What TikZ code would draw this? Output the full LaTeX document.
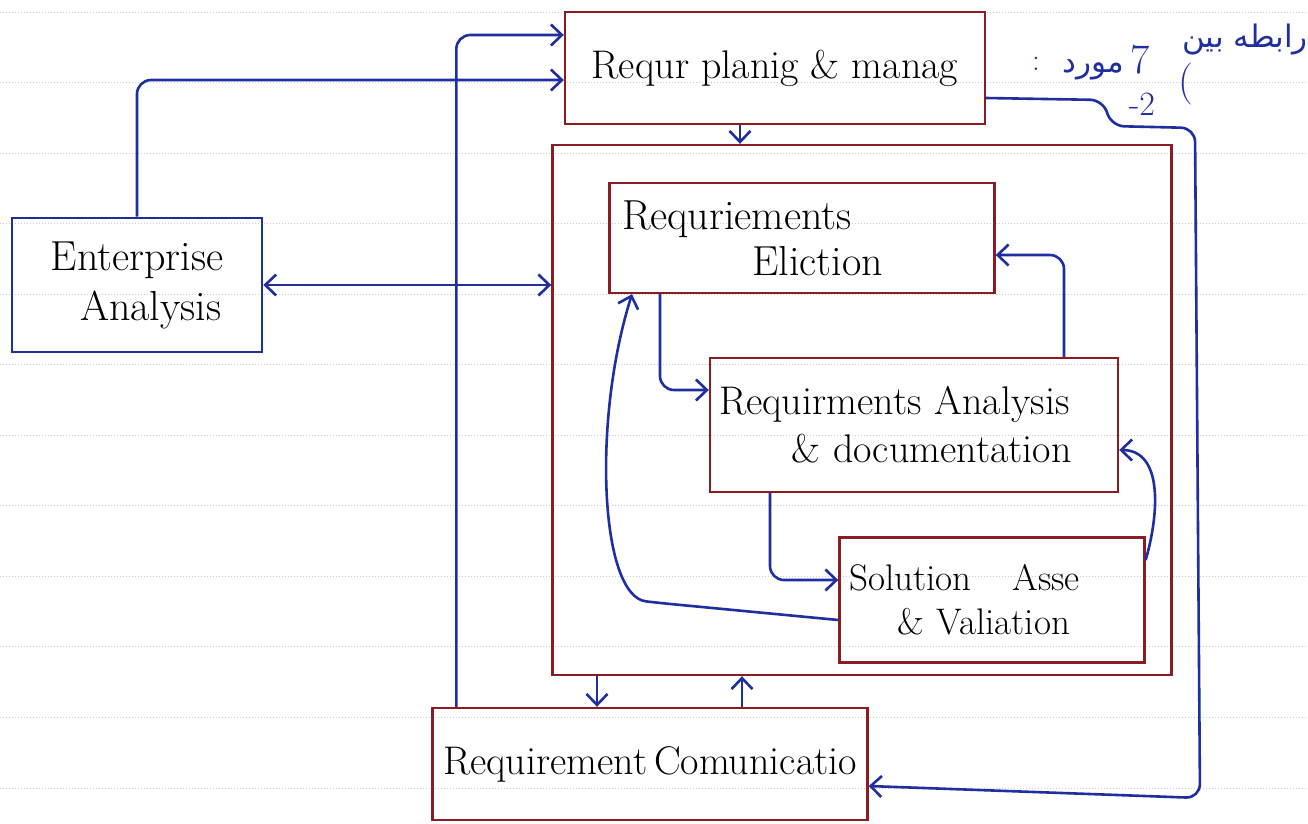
\documentclass[tikz,border=0pt]{standalone}
\usepackage{fontspec}
\newfontfamily\arabicfont[Script=Arabic]{DejaVu Sans}
\TeXXeTstate=1
\usetikzlibrary{arrows.meta,calc}
\definecolor{boxred}{HTML}{8A1C24}
\definecolor{penblue}{HTML}{1F2FA0}
\definecolor{ruling}{HTML}{C8CCD4}
\tikzset{
  redbox/.style={draw=boxred, line width=2.4pt, inner sep=4pt, align=left,
                 font=\fontsize{40}{46}\selectfont, text=black},
  bluebox/.style={draw=penblue, line width=2.6pt, inner sep=4pt, align=left,
                 font=\fontsize{42}{50}\selectfont, text=black},
  tip/.style={Straight Barb[length=11pt,width=21pt,line width=2.6pt]},
  wire/.style={draw=penblue, line width=2.6pt, rounded corners=14pt, -{Straight Barb[length=11pt,width=21pt,line width=2.6pt]}},
  wires/.style={wire, {Straight Barb[length=11pt,width=21pt,line width=2.6pt]}-{Straight Barb[length=11pt,width=21pt,line width=2.6pt]}},
  farsi/.style={text=penblue, font=\fontsize{31}{34}\selectfont, inner sep=0pt},
  rule/.style={draw=ruling, line width=1pt, dotted}
}
\begin{document}
\begin{tikzpicture}[x=1pt,y=-1pt]
\useasboundingbox (0,0) rectangle (1308,823);
\fill[white] (0,0) rectangle (1308,823);
% notebook ruling
\foreach \yy in {12,82,153,223,294,364,435,505,576,646,717,788}
  \draw[rule] (0,\yy) -- (1308,\yy);

% boxes
\node[bluebox, minimum width=250pt, minimum height=134pt] (ent) at (137,285)
  {Enterprise\\\hspace*{0.7em}Analysis};
\node[redbox, minimum width=420pt, minimum height=112pt] (plan) at (775,68)
  {Requr planig \& manag};
\node[draw=boxred, line width=2.4pt, minimum width=619pt, minimum height=530pt] (cont) at (862,410) {};
\node[redbox, minimum width=385pt, minimum height=110pt, text width=360pt, font=\fontsize{42}{46}\selectfont] (elic) at (802,238)
  {Requriements\\\hspace*{3.1em}Eliction};
\node[redbox, minimum width=408pt, minimum height=134pt, text width=390pt, font=\fontsize{40}{48}\selectfont] (ana) at (914,425)
  {Requirments Analysis\\\hspace*{1.8em}\& documentation};
\node[redbox, minimum width=305pt, minimum height=125pt, text width=285pt, font=\fontsize{37}{44}\selectfont] (sol) at (992,600)
  {Solution\hspace{1.1em}Asse\\\hspace*{1.3em}\& Valiation};
\node[redbox, minimum width=435pt, minimum height=112pt] (comm) at (650,764)
  {Requirement\,Comunicatio};

% persian note
\node[farsi] (fa1) at (1245,40) {\arabicfont\beginR رابطه بین\endR};
\node[farsi, font=\fontsize{42}{46}\selectfont] (fa2) at (1186,84) {(};
\node[farsi, font=\fontsize{42}{46}\selectfont] (fa3) at (1140,60) {7};
\node[farsi] (fa4) at (1093,70) {\arabicfont\beginR مورد\endR};
\node[farsi] (fa5) at (1036,64) {:};
\node[farsi, font=\fontsize{34}{38}\selectfont] (fa6) at (1142,104) {-2};

% connectors
\draw[wire] (ent.north) |- ([yshift=-12pt]plan.west);
\draw[wires] (ent.east) -- (cont.west |- ent.east);
\coordinate (p3) at ([xshift=25pt]comm.north west);
\draw[wire] (p3) |- ([yshift=33pt]plan.west);
\coordinate (p4) at ([xshift=-35pt]plan.south);
\draw[wire] (p4) -- (p4 |- cont.north);
\coordinate (p5) at ([yshift=-30pt]plan.east);
\draw[wire] (p5) -- ++(118,2) -- ++(6,26) -- (1195,128) -- (1200,798) -- ([yshift=-22pt]comm.east);
\coordinate (p6) at ([xshift=-142pt]elic.south);
\draw[wire] (p6) |- ([yshift=35pt]ana.west);
\coordinate (p7) at ([xshift=-144pt]ana.south);
\draw[wire] (p7) |- ([yshift=20pt]sol.west);
\draw[wire] ([yshift=-20pt]sol.west) -- (660,603) .. controls (600,596) and (592,420) .. ([xshift=-170pt]elic.south);
\coordinate (p9) at ([xshift=150pt]ana.north);
\draw[wire] (p9) |- ([yshift=-17pt]elic.east);
\draw[wire] ([yshift=40pt]sol.east) .. controls (1160,510) and (1162,450) .. ([yshift=-25pt]ana.east);
\coordinate (p11) at ([xshift=-265pt]cont.south);
\draw[wire] (p11) -- (p11 |- comm.north);
\coordinate (p12) at ([xshift=92pt]comm.north);
\draw[wire] (p12) -- (p12 |- cont.south);
\end{tikzpicture}
\end{document}
